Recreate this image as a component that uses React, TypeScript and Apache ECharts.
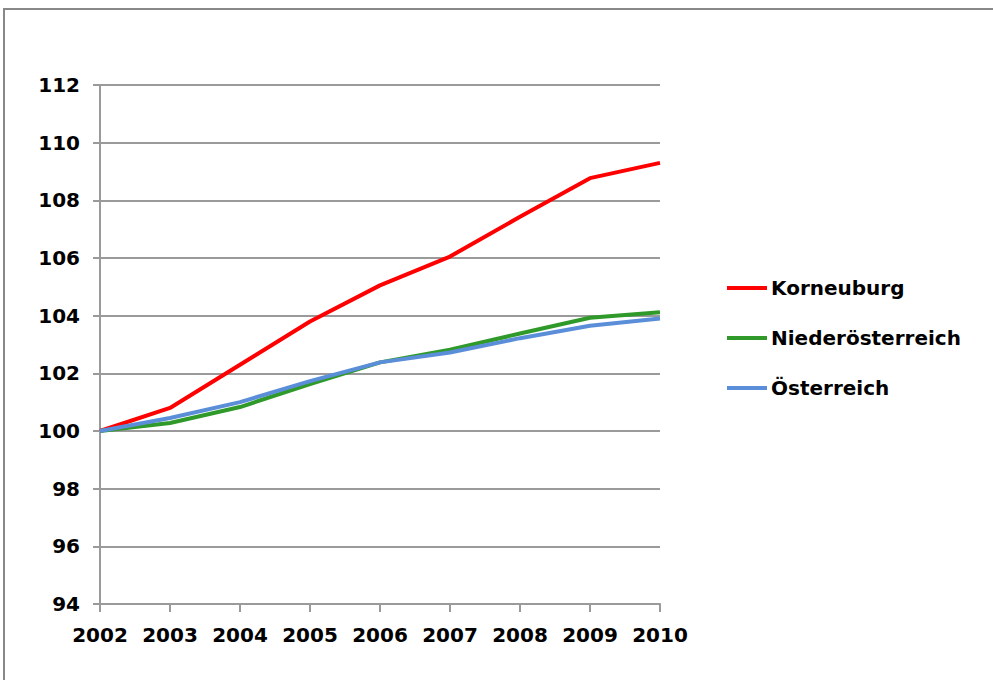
import React, { useEffect, useRef } from "react";
import * as echarts from "echarts";

const years = ["2002", "2003", "2004", "2005", "2006", "2007", "2008", "2009", "2010"];
const korneuburg = [100, 100.8, 102.3, 103.8, 105.05, 106.05, 107.43, 108.77, 109.3];
const niederoesterreich = [100, 100.28, 100.83, 101.63, 102.38, 102.82, 103.38, 103.93, 104.12];
const oesterreich = [100, 100.45, 101.0, 101.73, 102.38, 102.72, 103.22, 103.65, 103.9];

const FONT = "'DejaVu Sans', Verdana, sans-serif";
const GRAY = "#9a9a9a";

export default function App() {
  const ref = useRef<HTMLDivElement>(null);
  useEffect(() => {
    if (!ref.current) return;
    const chart = echarts.init(ref.current, undefined, { renderer: "svg" });
    chart.setOption({
      animation: false,
      backgroundColor: "#ffffff",
      textStyle: { fontFamily: FONT },
      graphic: [
        {
          type: "rect",
          shape: { x: 4, y: 9, width: 1200, height: 900 },
          style: { fill: "none", stroke: "#888888", lineWidth: 2 },
          silent: true,
        },
      ],
      grid: { left: 100, right: 333, top: 85, bottom: 76, containLabel: false },
      legend: {
        orient: "vertical",
        left: 722,
        top: 273,
        itemGap: 30,
        itemWidth: 40,
        itemHeight: 4,
        icon: "rect",
        textStyle: { fontFamily: FONT, fontWeight: "bold", fontSize: 20, color: "#000", lineHeight: 20, padding: [0, 0, 0, -1] },
        data: ["Korneuburg", "Niederösterreich", "Österreich"],
      },
      xAxis: {
        type: "category",
        data: years,
        boundaryGap: false,
        axisLine: { lineStyle: { color: GRAY, width: 2 } },
        axisTick: { show: true, interval: 0, length: 8, alignWithLabel: true, lineStyle: { color: GRAY, width: 2 } },
        axisLabel: { interval: 0, hideOverlap: false, margin: 21, fontFamily: FONT, fontWeight: "bold", fontSize: 20, color: "#000" },
        splitLine: { show: false },
      },
      yAxis: {
        type: "value",
        min: 94,
        max: 112,
        interval: 2,
        axisLine: { show: true, lineStyle: { color: GRAY, width: 2 } },
        axisTick: { show: true, length: 7, lineStyle: { color: GRAY, width: 2 } },
        axisLabel: { margin: 20, fontFamily: FONT, fontWeight: "bold", fontSize: 20, color: "#000" },
        splitLine: { show: true, lineStyle: { color: GRAY, width: 2 } },
      },
      series: [
        {
          name: "Korneuburg",
          type: "line",
          data: korneuburg,
          showSymbol: false,
          symbol: "none",
          color: "#ff0000",
          lineStyle: { width: 4, color: "#ff0000" },
        },
        {
          name: "Niederösterreich",
          type: "line",
          data: niederoesterreich,
          showSymbol: false,
          symbol: "none",
          color: "#2f9a2a",
          lineStyle: { width: 4, color: "#2f9a2a" },
        },
        {
          name: "Österreich",
          type: "line",
          data: oesterreich,
          showSymbol: false,
          symbol: "none",
          color: "#5b8ed8",
          lineStyle: { width: 4, color: "#5b8ed8" },
        },
      ],
    });
    return () => chart.dispose();
  }, []);
  return (
    <div
      ref={ref}
      style={{ position: "absolute", left: 0, top: 0, width: 993, height: 680 }}
    />
  );
}
